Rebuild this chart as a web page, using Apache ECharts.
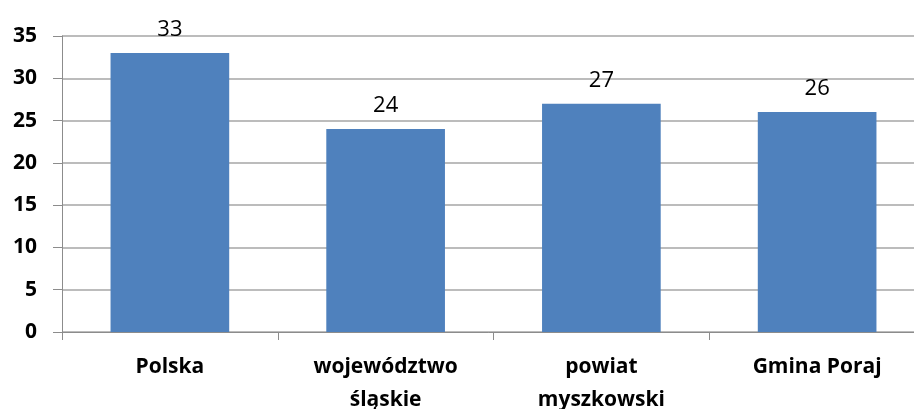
<!DOCTYPE html>
<html>
<head>
<meta charset="utf-8">
<script src="https://cdn.jsdelivr.net/npm/echarts@6/dist/echarts.min.js"></script>
<style>html,body{margin:0;padding:0;background:#fff}#c{width:914px;height:409px}</style>
</head>
<body>
<div id="c"></div>
<script>
var categories = ['Polska', 'województwo\nśląskie', 'powiat\nmyszkowski', 'Gmina Poraj'];
var values = [33, 24, 27, 26];
var yMin = 0, yMax = 35, yStep = 5;

var chart = echarts.init(document.getElementById('c'));
chart.setOption({
  animation: false,
  grid: { left: 62, top: 36, width: 863, height: 296, containLabel: false, outerBoundsMode: 'none' },
  xAxis: {
    type: 'category',
    data: categories,
    axisLine: { lineStyle: { color: '#8c8c8c', width: 1 } },
    axisTick: { show: true, length: 8, lineStyle: { color: '#8c8c8c' } },
    axisLabel: {
      margin: 19,
      fontFamily: 'Open Sans', fontWeight: 'bold', fontSize: 21, color: '#000',
      lineHeight: 33
    }
  },
  yAxis: {
    type: 'value', min: yMin, max: yMax, interval: yStep,
    axisLine: { show: true, lineStyle: { color: '#8c8c8c', width: 1 } },
    axisTick: { show: true, length: 9, lineStyle: { color: '#8c8c8c' } },
    splitLine: { lineStyle: { color: '#a6a6a6', width: 1.5 } },
    axisLabel: {
      margin: 25,
      fontFamily: 'Open Sans', fontWeight: 'bold', fontSize: 21, color: '#000'
    }
  },
  series: [{
    type: 'bar',
    data: values,
    barWidth: '55%',
    itemStyle: { color: '#4F81BD' },
    label: {
      show: true, position: 'top', distance: 12,
      fontFamily: 'Open Sans', fontSize: 22, color: '#000'
    }
  }]
});
</script>
</body>
</html>
